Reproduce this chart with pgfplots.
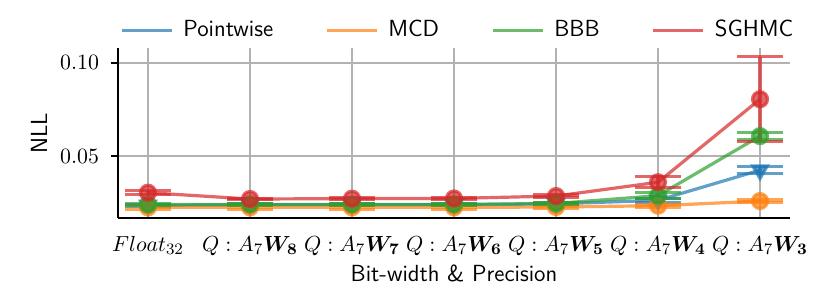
\documentclass[border=0pt]{standalone}
\usepackage{pgfplots}
\pgfplotsset{compat=1.18}
\usepackage{bm}
\definecolor{tblue}{HTML}{1F77B4}
\definecolor{torange}{HTML}{FF7F0E}
\definecolor{tgreen}{HTML}{2CA02C}
\definecolor{tred}{HTML}{D62728}
\pgfplotstableread{
x y e
0 0.0235 0.0005
1 0.0238 0.0004
2 0.0238 0.0004
3 0.0238 0.0004
4 0.0243 0.0005
5 0.0262 0.0010
6 0.0424 0.0019
}\pointwise
\pgfplotstableread{
x y e
0 0.0224 0.0012
1 0.0224 0.0010
2 0.0224 0.0010
3 0.0224 0.0010
4 0.0226 0.0010
5 0.0233 0.0008
6 0.0258 0.0006
}\mcd
\pgfplotstableread{
x y e
0 0.0240 0.0006
1 0.0240 0.0006
2 0.0240 0.0006
3 0.0240 0.0006
4 0.0245 0.0006
5 0.0287 0.0015
6 0.0607 0.0018
}\bbb
\pgfplotstableread{
x y e
0 0.0303 0.0010
1 0.0269 0.0004
2 0.0271 0.0004
3 0.0272 0.0004
4 0.0285 0.0006
5 0.0359 0.0030
6 0.0805 0.0229
}\sghmc
\begin{document}
\begin{tikzpicture}
\useasboundingbox (-59bp,-36.5bp) rectangle (356bp,109bp);
\begin{axis}[
  at={(0,0)}, anchor=south west,
  scale only axis, width=336bp, height=85bp,
  xmin=-0.294, xmax=6.294, ymin=0.0167, ymax=0.108,
  axis x line*=bottom, axis y line*=left,
  axis line style={line width=0.7bp, -},
  xtick={0,1,2,3,4,5,6},
  xticklabels={$Float_{32}$,$Q:A_7\bm{W_8}$,$Q:A_7\bm{W_7}$,$Q:A_7\bm{W_6}$,$Q:A_7\bm{W_5}$,$Q:A_7\bm{W_4}$,$Q:A_7\bm{W_3}$},
  ytick={0.05,0.10},
  yticklabels={$0.05$,$0.10$},
  grid=major,
  grid style={color=black!30, line width=0.8bp},
  tick align=outside,
  major tick length=3.5bp,
  ytick style={black, line width=0.7bp},
  xtick style={draw=none},
  every tick label/.append style={font=\fontsize{11}{13}\selectfont},
  xticklabel style={anchor=base, yshift=-13bp},
  yticklabel style={xshift=-2.5bp},
  label style={font=\fontsize{11.7}{14}\sffamily\selectfont},
  xlabel={Bit-width \& Precision},
  xlabel style={at={(axis description cs:0.5,0)}, anchor=base, yshift=-31.5bp},
  ylabel={NLL},
  ylabel style={at={(axis description cs:-0.1176,0.5)}, anchor=center, rotate=0},
  legend columns=4,
  legend style={at={(axis description cs:0.507,1.105)}, anchor=center, draw=none, fill=none,
    font=\fontsize{11.7}{14}\sffamily\selectfont,
    /tikz/every odd column/.append style={column sep=3bp},
    /tikz/every even column/.append style={column sep=24bp}},
  legend image code/.code={\draw[#1, mark=none, line width=1.6bp] (0bp,0bp) -- (25bp,0bp);},
  every axis plot/.append style={line width=1.6bp, draw opacity=0.7, fill opacity=0.7},
]
\addplot[color=tblue, mark=triangle*, mark size=4.2bp, mark options={rotate=180, solid},
  error bars/.cd, y dir=both, y explicit,
  error bar style={line width=1.6bp, tblue, opacity=0.7},
  error mark options={rotate=90, line width=1.6bp, mark size=11.5bp, tblue, opacity=0.7}]
  table[x=x, y=y, y error=e]{\pointwise};
\addlegendentry{Pointwise}
\addplot[color=torange, mark=*, mark size=3.75bp, mark options={solid},
  error bars/.cd, y dir=both, y explicit,
  error bar style={line width=1.6bp, torange, opacity=0.7},
  error mark options={rotate=90, line width=1.6bp, mark size=11.5bp, torange, opacity=0.7}]
  table[x=x, y=y, y error=e]{\mcd};
\addlegendentry{MCD}
\addplot[color=tgreen, mark=*, mark size=3.75bp, mark options={solid},
  error bars/.cd, y dir=both, y explicit,
  error bar style={line width=1.6bp, tgreen, opacity=0.7},
  error mark options={rotate=90, line width=1.6bp, mark size=11.5bp, tgreen, opacity=0.7}]
  table[x=x, y=y, y error=e]{\bbb};
\addlegendentry{BBB}
\addplot[color=tred, mark=*, mark size=3.75bp, mark options={solid},
  error bars/.cd, y dir=both, y explicit,
  error bar style={line width=1.6bp, tred, opacity=0.7},
  error mark options={rotate=90, line width=1.6bp, mark size=11.5bp, tred, opacity=0.7}]
  table[x=x, y=y, y error=e]{\sghmc};
\addlegendentry{SGHMC}
\end{axis}
\end{tikzpicture}
\end{document}
